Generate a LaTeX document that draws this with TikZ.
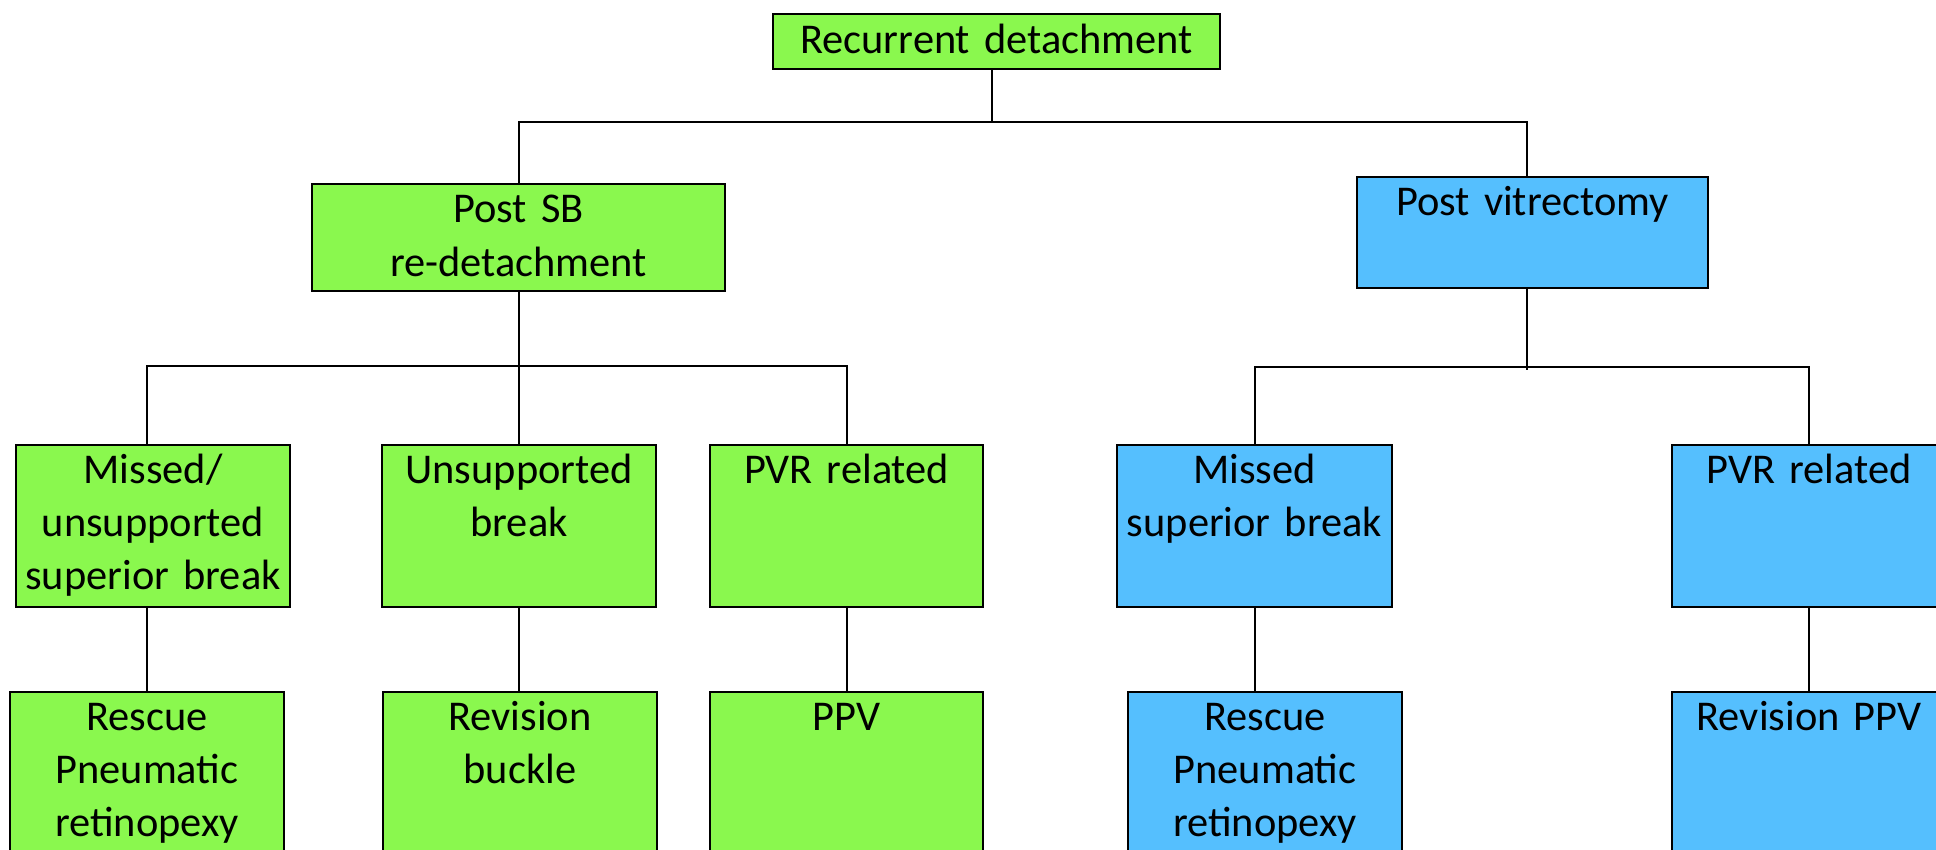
\documentclass[tikz,border=0pt]{standalone}
\usepackage{fontspec}
\setmainfont[WordSpace=0.8]{Carlito}
\usetikzlibrary{calc}
\definecolor{gfill}{HTML}{8AF84E}
\definecolor{bfill}{HTML}{55BFFE}
\begin{document}
\begin{tikzpicture}[x=0.5pt,y=-0.5pt,
  box/.style={draw=black,line width=1.1pt,inner sep=0pt,outer sep=0pt,anchor=north west},
  gbox/.style={box,fill=gfill},
  bbox/.style={box,fill=bfill},
  txt/.style={anchor=base,inner sep=0pt,text width=210pt,align=center,font=\fontsize{21.2}{26.5}\selectfont},
  conn/.style={draw=black,line width=1pt}]
\path[use as bounding box,clip] (0,0) rectangle (1936,850);
\fill[white] (0,0) rectangle (1936,850);
% boxes
\node[gbox,minimum width=223.5pt,minimum height=27.5pt] (top) at (773,14) {};
\node[gbox,minimum width=206.5pt,minimum height=53.5pt] (sb) at (312,184) {};
\node[bbox,minimum width=175.5pt,minimum height=55.5pt] (pv) at (1357,177) {};
\node[gbox,minimum width=137pt,minimum height=81pt] (a3) at (16,445) {};
\node[gbox,minimum width=137pt,minimum height=81pt] (b3) at (382,445) {};
\node[gbox,minimum width=136.5pt,minimum height=81pt] (c3) at (710,445) {};
\node[bbox,minimum width=137.5pt,minimum height=81pt] (d3) at (1117,445) {};
\node[bbox,minimum width=137pt,minimum height=81pt] (e3) at (1672,445) {};
\node[gbox,minimum width=137pt,minimum height=100pt] (a4) at (10,692) {};
\node[gbox,minimum width=137pt,minimum height=100pt] (b4) at (383,692) {};
\node[gbox,minimum width=136.5pt,minimum height=100pt] (c4) at (710,692) {};
\node[bbox,minimum width=137pt,minimum height=100pt] (d4) at (1128,692) {};
\node[bbox,minimum width=137pt,minimum height=100pt] (e4) at (1672,692) {};
% texts
\node[txt] (ttop) at ($(top.north)+(0,40)$) {Recurrent detachment};
\node[txt] (tsb) at ($(sb.north)+(0,39)$) {Post SB\\re-detachment};
\node[txt] (tpv) at ($(pv.north)+(0,38)$) {Post vitrectomy};
\node[txt] (ta3) at ($(a3.north)+(0,38)$) {Missed/\\unsupported\\superior break};
\node[txt] (tb3) at ($(b3.north)+(0,38)$) {Unsupported\\break};
\node[txt] (tc3) at ($(c3.north)+(0,38)$) {PVR related};
\node[txt] (td3) at ($(d3.north)+(0,38)$) {Missed\\superior break};
\node[txt] (te3) at ($(1809,445)+(0,38)$) {PVR related};
\node[txt] (ta4) at ($(a4.north)+(0,38)$) {Rescue\\Pneumatic\\retinopexy};
\node[txt] (tb4) at ($(b4.north)+(0,38)$) {Revision\\buckle};
\node[txt] (tc4) at ($(c4.north)+(0,38)$) {PPV};
\node[txt] (td4) at ($(d4.north)+(0,38)$) {Rescue\\Pneumatic\\retinopexy};
\node[txt] (te4) at ($(1809,692)+(0,38)$) {Revision PPV};
% bars
\coordinate (bar1) at (0,122);
\coordinate (bar2) at (0,366);
\coordinate (bar3) at (0,367);
\coordinate (topx) at (992,0);
\coordinate (sbx) at (519,0);
\coordinate (pvx) at (1527,0);
\coordinate (ex) at (1809,0);
\draw[conn] (topx |- top.south) -- (topx |- bar1);
\draw[conn] (sbx |- sb.north) -- (sbx |- bar1) -- (pvx |- bar1) -- (pvx |- pv.north);
\draw[conn] (sbx |- sb.south) -- (sbx |- bar2);
\draw[conn] (a4.north |- a3.north) -- (a4.north |- bar2) -- (c3.north |- bar2) -- (c3.north);
\draw[conn] (sbx |- bar2) -- (sbx |- b3.north);
\draw[conn] ($(pvx |- pv.south)$) -- ($(pvx |- bar3)+(0,3)$);
\draw[conn] (d3.north) -- (d3.north |- bar3) -- (ex |- bar3) -- (ex |- e3.north);
% level 3 to 4
\draw[conn] (a4.north |- a3.south) -- (a4.north);
\draw[conn] (sbx |- b3.south) -- (sbx |- b4.north);
\draw[conn] (c3.south) -- (c3.south |- c4.north);
\draw[conn] (d3.south) -- (d3.south |- d4.north);
\draw[conn] (ex |- e3.south) -- (ex |- e4.north);
\end{tikzpicture}
\end{document}
